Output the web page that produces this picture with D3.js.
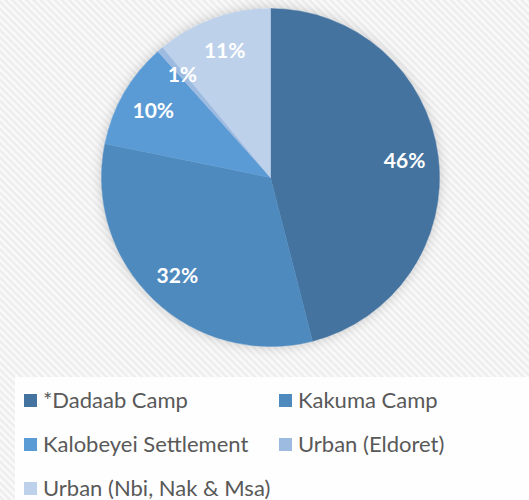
<!DOCTYPE html>
<html>
<head>
<meta charset="utf-8">
<script src="https://cdn.jsdelivr.net/npm/d3@7"></script>
<style>
  html, body { margin: 0; padding: 0; background: #fff; }
  svg { display: block; }
</style>
</head>
<body>
<div id="chart"></div>
<script>
const categories = ['*Dadaab Camp', 'Kakuma Camp', 'Kalobeyei Settlement', 'Urban (Eldoret)', 'Urban (Nbi, Nak & Msa)'];
const values = [46, 32.2, 10.2, 0.6, 11];
const colors = ['#44739f', '#4f8abe', '#5b9bd5', '#9dbbe0', '#bdd1ea'];

const width = 529, height = 500;
const cx = 270.5, cy = 177.5, r = 169;

const svg = d3.select('#chart').append('svg')
  .attr('width', width)
  .attr('height', height);

const defs = svg.append('defs');

// diagonal hatch background
const pat = defs.append('pattern')
  .attr('id', 'hatch')
  .attr('width', 5).attr('height', 5)
  .attr('patternUnits', 'userSpaceOnUse')
  .attr('patternTransform', 'rotate(45)');
pat.append('rect').attr('width', 5).attr('height', 5).attr('fill', '#fafafa');
pat.append('rect').attr('width', 5).attr('height', 2.5).attr('fill', '#ededed');

const shadow = defs.append('filter')
  .attr('id', 'shadow')
  .attr('x', '-20%').attr('y', '-20%').attr('width', '140%').attr('height', '140%');
shadow.append('feDropShadow')
  .attr('dx', 0).attr('dy', 0)
  .attr('stdDeviation', 6)
  .attr('flood-color', '#000')
  .attr('flood-opacity', 0.2);

svg.append('rect')
  .attr('width', width).attr('height', height)
  .attr('fill', 'url(#hatch)');

const pie = d3.pie().sort(null).value(d => d);
const arcs = pie(values);
const arc = d3.arc().innerRadius(0).outerRadius(r);
const labelArc = d3.arc().innerRadius(r * 0.8).outerRadius(r * 0.8);

const g = svg.append('g').attr('transform', `translate(${cx},${cy})`);

g.append('circle')
  .attr('r', r)
  .attr('fill', '#fff')
  .attr('filter', 'url(#shadow)');

g.selectAll('path.slice')
  .data(arcs)
  .join('path')
  .attr('class', 'slice')
  .attr('d', arc)
  .attr('fill', (d, i) => colors[i])
  .attr('stroke', (d, i) => colors[i])
  .attr('stroke-width', 0.5);

g.selectAll('text.lbl')
  .data(arcs)
  .join('text')
  .attr('class', 'lbl')
  .attr('transform', d => `translate(${labelArc.centroid(d)})`)
  .attr('text-anchor', 'middle')
  .attr('dy', '0.35em')
  .attr('fill', '#fff')
  .attr('font-family', 'Lato, "Open Sans", sans-serif')
  .attr('font-weight', 'bold')
  .attr('font-size', 21)
  .text(d => Math.round(d.data) + '%');

// legend
svg.append('rect')
  .attr('x', 15).attr('y', 377)
  .attr('width', width - 15).attr('height', height - 377)
  .attr('fill', '#fefefe');

const legend = svg.append('g');
const item = legend.selectAll('g')
  .data(categories)
  .join('g')
  .attr('transform', (d, i) => `translate(${i % 2 === 0 ? 24 : 279},${400 + Math.floor(i / 2) * 44})`);

item.append('rect')
  .attr('x', 0).attr('y', -6)
  .attr('width', 13).attr('height', 13)
  .attr('fill', (d, i) => colors[i]);

item.append('text')
  .attr('x', 19)
  .attr('dy', '0.36em')
  .attr('fill', '#595959')
  .attr('font-family', 'Lato, "Open Sans", sans-serif')
  .attr('font-size', 22)
  .text(d => d);
</script>
</body>
</html>
